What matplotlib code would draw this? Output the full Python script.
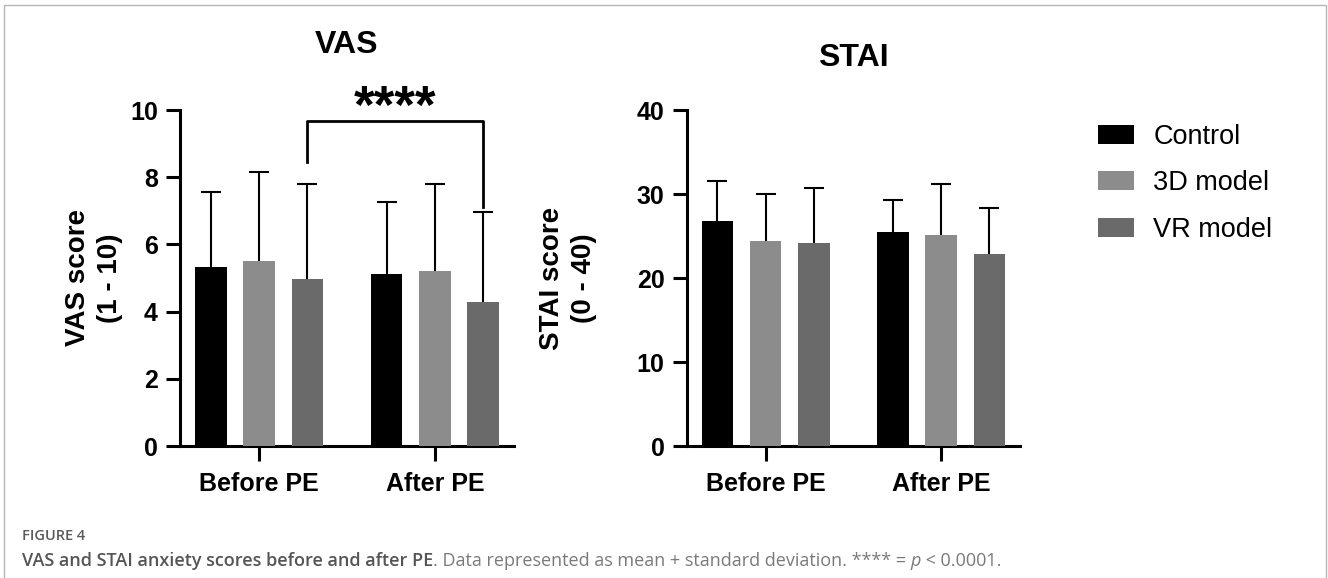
import matplotlib
matplotlib.use("Agg")
import matplotlib.pyplot as plt
from matplotlib.text import Annotation
import numpy as np
from matplotlib.patches import Patch, Rectangle

groups = ['Before PE', 'After PE']
series = ['Control', '3D model', 'VR model']
colors = ['#000000', '#8c8c8c', '#6a6a6a']

vas_mean = {'Control': [5.34, 5.11], '3D model': [5.52, 5.22], 'VR model': [4.96, 4.29]}
vas_sd = {'Control': [2.22, 2.14], '3D model': [2.63, 2.57], 'VR model': [2.83, 2.67]}

stai_mean = {'Control': [26.81, 25.43], '3D model': [24.44, 25.07], 'VR model': [24.20, 22.89]}
stai_sd = {'Control': [4.75, 3.88], '3D model': [5.54, 6.14], 'VR model': [6.57, 5.47]}

W, H = 1328, 578
plt.rcParams['font.family'] = ['Liberation Sans', 'DejaVu Sans']

fig = plt.figure(figsize=(W / 100, H / 100), dpi=100)
ax1 = fig.add_axes([180 / W, 1 - 446 / H, 334 / W, 336 / H])
ax2 = fig.add_axes([686.7 / W, 1 - 446 / H, 333.3 / W, 336 / H])

x = np.arange(len(groups))
offsets = [-0.275, 0.0, 0.275]
bar_w = 0.18


def draw_panel(ax, means, sds, ymax, ystep, ylabel):
    for name, off, col in zip(series, offsets, colors):
        xs = x + off
        m = np.array(means[name])
        s = np.array(sds[name])
        ax.bar(xs, m, width=bar_w, color=col, zorder=3)
        ax.vlines(xs, m, m + s, color='black', lw=1.5, zorder=2)
        ax.plot(xs, m + s, ls='none', marker='_', ms=15, mew=1.5, color='black', zorder=2)
    ax.set_xlim(-0.45, 1.45)
    ax.set_ylim(0, ymax)
    ax.set_yticks(np.arange(0, ymax + 1, ystep))
    ax.set_xticks(x)
    ax.set_xticklabels(groups)
    for sp in ['top', 'right']:
        ax.spines[sp].set_visible(False)
    for sp in ['left', 'bottom']:
        ax.spines[sp].set_linewidth(2.2)
    ax.tick_params(axis='y', length=10, width=2.2, pad=6, labelsize=18)
    ax.tick_params(axis='x', length=11, width=2.2, pad=8, labelsize=18)
    for lab in ax.get_xticklabels() + ax.get_yticklabels():
        lab.set_fontweight('bold')
    ax.set_ylabel(ylabel, fontsize=20, fontweight='bold', linespacing=1.3)


draw_panel(ax1, vas_mean, vas_sd, 10, 2, 'VAS score\n(1 - 10)')
draw_panel(ax2, stai_mean, stai_sd, 40, 10, 'STAI score\n(0 - 40)')
ax1.yaxis.set_label_coords(-0.17, 0.5)
ax2.yaxis.set_label_coords(-0.27, 0.5)

ax1.text(0.5, 1.193, 'VAS', transform=ax1.transAxes, ha='center', va='center',
         fontsize=23, fontweight='bold')
ax2.text(0.5, 1.155, 'STAI', transform=ax2.transAxes, ha='center', va='center',
         fontsize=23, fontweight='bold')

# significance bracket between VR model bars
x0, x1 = x[0] + offsets[2], x[1] + offsets[2]
ax1.plot([x0, x0, x1, x1], [8.46, 9.67, 9.67, 7.12], color='black', lw=2, clip_on=False)
ax1.text((x0 + x1) / 2, 9.3, '****', ha='center', va='bottom', fontsize=38,
         fontweight='bold')

handles = [Patch(facecolor=c, edgecolor='none') for c in colors]
fig.legend(handles, series, loc='upper left', bbox_to_anchor=(1097.7 / W, 1 - 124 / H),
           frameon=False, fontsize=19.5, handlelength=1.35, handleheight=0.7,
           handletextpad=0.7, labelspacing=0.75, borderpad=0, borderaxespad=0)

# frame around the figure
fig.patches.append(Rectangle((4 / W, -0.05), 1322 / W, 1.05 - 5 / H, transform=fig.transFigure,
                             fill=False, ec='#b5b5b5', lw=1))

cap_font = ['Open Sans', 'DejaVu Sans']
fig.text(22 / W, 1 - 540 / H, 'FIGURE 4', fontsize=10.5, color='#5a5a5a', family=cap_font,
         va='baseline', fontweight='semibold')
t1 = fig.text(22 / W, 1 - 570 / H, 'VAS and STAI anxiety scores before and after PE',
              fontsize=13, color='#555555', family=cap_font, va='bottom',
              fontweight='semibold')
a2 = fig.add_artist(Annotation(
    '. Data represented as mean + standard deviation. **** = ', xy=(1, 0), xycoords=t1,
    ha='left', va='bottom', fontsize=13, color='#7a7a7a', family=cap_font))
a3 = fig.add_artist(Annotation(
    'p', xy=(1, 0), xycoords=a2, ha='left', va='bottom', fontsize=13, color='#7a7a7a',
    family=cap_font, style='italic'))
fig.add_artist(Annotation(
    ' < 0.0001.', xy=(1, 0), xycoords=a3, ha='left', va='bottom', fontsize=13,
    color='#7a7a7a', family=cap_font))

fig.savefig('out.png', dpi=100)
